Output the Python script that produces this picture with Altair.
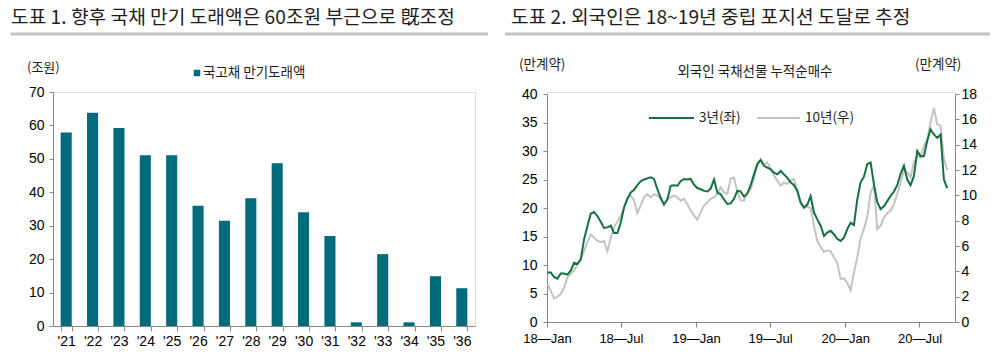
import altair as alt
import pandas as pd

# ---------------- data ----------------
years = ["'21", "'22", "'23", "'24", "'25", "'26", "'27", "'28",
         "'29", "'30", "'31", "'32", "'33", "'34", "'35", "'36"]
maturity = [57.9, 63.8, 59.2, 51.1, 51.1, 36.0, 31.5, 38.2,
            48.7, 34.0, 26.9, 1.1, 21.5, 1.1, 14.9, 11.3]

fut3 = [8.7, 8.7, 7.9, 7.6, 8.5, 8.5, 8.3, 9.0, 10.4, 10.2,
        11.0, 14.5, 16.8, 19.0, 19.3, 18.6, 17.6, 16.5, 16.6, 16.9,
        15.6, 15.6, 17.4, 20.1, 21.6, 22.7, 23.2, 24.0, 24.7, 25.0,
        25.2, 25.4, 25.1, 23.3, 21.8, 20.6, 21.5, 23.9, 24.0, 23.9,
        24.7, 25.1, 25.0, 25.1, 24.1, 23.5, 23.3, 23.0, 22.9, 23.4,
        25.0, 22.7, 22.4, 21.5, 20.7, 20.8, 21.6, 23.0, 22.9, 22.0,
        22.5, 24.0, 25.9, 27.7, 28.4, 27.4, 27.1, 26.8, 26.2, 25.9,
        26.5, 25.9, 25.3, 24.5, 24.0, 23.0, 20.9, 20.1, 20.6, 22.1,
        19.2, 18.0, 16.9, 15.1, 15.7, 16.0, 15.4, 14.6, 14.2, 14.8,
        16.3, 17.4, 17.0, 21.5, 24.5, 25.5, 27.7, 28.0, 24.2, 21.0,
        19.8, 20.3, 21.2, 22.1, 22.9, 24.0, 26.0, 27.4, 25.0, 24.0,
        25.6, 30.0, 29.1, 29.1, 31.8, 33.8, 32.9, 32.3, 32.9, 25.0,
        23.5]
fut10 = [3.0, 2.45, 1.85, 2.0, 2.2, 2.72, 3.5, 3.8, 4.1, 4.5,
         4.95, 5.6, 6.3, 6.9, 6.68, 6.4, 6.3, 6.4, 5.6, 6.6,
         7.5, 7.9, 8.4, 9.0, 9.8, 10.0, 9.6, 8.6, 9.2, 9.85,
         10.1, 9.85, 10.1, 9.98, 9.72, 9.3, 9.72, 9.85, 9.98, 9.85,
         9.58, 9.72, 9.3, 8.79, 8.4, 8.08, 8.66, 9.19, 9.45, 9.72,
         9.85, 10.1, 10.64, 10.25, 10.1, 11.3, 11.4, 10.3, 9.6, 9.58,
         10.25, 10.5, 11.3, 12.5, 12.88, 12.4, 12.6, 12.1, 11.56, 11.16,
         10.77, 11.0, 10.9, 11.16, 11.3, 10.4, 9.5, 9.0, 9.1, 9.0,
         7.6, 6.4, 5.9, 5.55, 5.65, 5.6, 5.1, 4.65, 3.4, 3.45,
         3.1, 2.5, 3.9, 5.1, 6.6, 7.35, 8.3, 10.2, 10.8, 7.34,
         7.6, 8.25, 8.6, 8.8, 9.3, 10.1, 11.0, 12.0, 11.83, 11.43,
         12.6, 13.1, 13.0, 13.9, 14.4, 15.79, 16.9, 15.6, 15.5, 12.9,
         12.0]
series_start = "2018-01-02"
series_end = "2020-09-07"
dates = pd.date_range(series_start, series_end, periods=len(fut3))

left_ticks = [0, 10, 20, 30, 40, 50, 60, 70]
right_left_ticks = [0, 5, 10, 15, 20, 25, 30, 35, 40]
right_right_ticks = [0, 2, 4, 6, 8, 10, 12, 14, 16, 18]

title1 = "도표 1. 향후 국채 만기 도래액은 60조원 부근으로 旣조정"
title2 = "도표 2. 외국인은 18~19년 중립 포지션 도달로 추정"
unit1 = "(조원)"
legend1 = "국고채 만기도래액"
unit2 = "(만계약)"
subtitle2 = "외국인 국채선물 누적순매수"
legend3 = "3년(좌)"
legend10 = "10년(우)"

# ---------------- style ----------------
KFONT = "Noto Sans CJK KR"
NFONT = "Liberation Sans"
TEAL = "#006b7a"
GREEN = "#13703f"
GRAY = "#c3c3c3"
TXT = "#1e1e1e"
LINEGRAY = "#c4c4c4"

one = pd.DataFrame({"k": [0]})


def label(t, x, y, size=13.5, font=KFONT, align="left", baseline="middle"):
    return alt.Chart(pd.DataFrame({"t": [t]})).mark_text(
        align=align, baseline=baseline, font=font, fontSize=size, color=TXT
    ).encode(x=alt.value(x), y=alt.value(y), text="t:N")


def hrule(x1, x2, y, color, width):
    return alt.Chart(one).mark_rule(color=color, strokeWidth=width).encode(
        x=alt.value(x1), x2=alt.value(x2), y=alt.value(y))


# ---------------- left panel ----------------
W1, H1 = 422, 234
df1 = pd.DataFrame({"year": years, "value": maturity})
bars = alt.Chart(df1).mark_bar(color=TEAL).encode(
    x=alt.X("year:N", sort=None, title=None,
            scale=alt.Scale(paddingInner=0.58, paddingOuter=0.29),
            axis=alt.Axis(labelAngle=0, tickBand="extent", tickSize=5,
                          labelPadding=3, labelFontSize=14)),
    y=alt.Y("value:Q", title=None, scale=alt.Scale(domain=[0, 70]),
            axis=alt.Axis(values=left_ticks, grid=False, tickSize=4,
                          labelPadding=5, labelFontSize=14)),
)
sq = alt.Chart(one).mark_square(size=42, color=TEAL, opacity=1).encode(
    x=alt.value(144), y=alt.value(-19))
left = alt.layer(
    bars,
    label(title1, -42, -83, size=19.2, baseline="top"),
    hrule(-42.5, 435, -58, LINEGRAY, 3),
    label(unit1, -26, -24, size=13),
    sq,
    label(legend1, 150, -19),
).properties(width=W1, height=H1)

# ---------------- right panel ----------------
W2, H2 = 408, 230
df2 = pd.DataFrame({"date": dates, "f3": fut3, "f10": fut10})
xenc = alt.X(
    "date:T", title=None,
    scale=alt.Scale(domain=[alt.DateTime(year=2018, month=1, date=1),
                            alt.DateTime(year=2020, month=9, date=26)]),
    axis=alt.Axis(
        values=[alt.DateTime(year=y, month=m, date=1)
                for y in (2018, 2019, 2020) for m in (1, 7)],
        labelExpr="timeFormat(datum.value, '%y') + '—' + timeFormat(datum.value, '%b')",
        tickSize=5, labelPadding=5, labelFlush=False, grid=False,
        labelFontSize=13),
)
gray_line = alt.Chart(df2).mark_line(color=GRAY, strokeWidth=2).encode(
    x=xenc,
    y=alt.Y("f10:Q", title=None, scale=alt.Scale(domain=[0, 18], range=[H2, 2]),
            axis=alt.Axis(orient="right", values=right_right_ticks, grid=False,
                          tickSize=4, labelPadding=2, labelFontSize=14)),
)
green_line = alt.Chart(df2).mark_line(color=GREEN, strokeWidth=2).encode(
    x=xenc,
    y=alt.Y("f3:Q", title=None, scale=alt.Scale(domain=[0, 40], range=[H2, 2]),
            axis=alt.Axis(orient="left", values=right_left_ticks, grid=False,
                          tickSize=4, labelPadding=6, labelFontSize=14)),
)
lines = alt.layer(gray_line, green_line).resolve_scale(y="independent")
right = alt.layer(
    lines,
    label(title2, -36, -83, size=19.2, baseline="top"),
    hrule(-42, 443, -58, LINEGRAY, 3),
    label(unit2, -28, -27),
    label(unit2, 368, -27),
    label(subtitle2, 208, -20, align="center"),
    hrule(102, 147, 26, GREEN, 2),
    label(legend3, 152, 26),
    hrule(210, 253, 26, GRAY, 2),
    label(legend10, 258, 26),
).resolve_scale(y="independent").properties(width=W2, height=H2)

chart = alt.hconcat(left, right, spacing=13).properties(
    padding=0
).configure_view(stroke=None).configure_axis(
    domainColor="black", domainWidth=2, tickColor="black", tickWidth=1.5,
    labelColor=TXT, labelFont=NFONT, labelFontSize=13,
).configure(background="white")

chart.save("out.html", embed_options={"renderer": "svg", "actions": False})
